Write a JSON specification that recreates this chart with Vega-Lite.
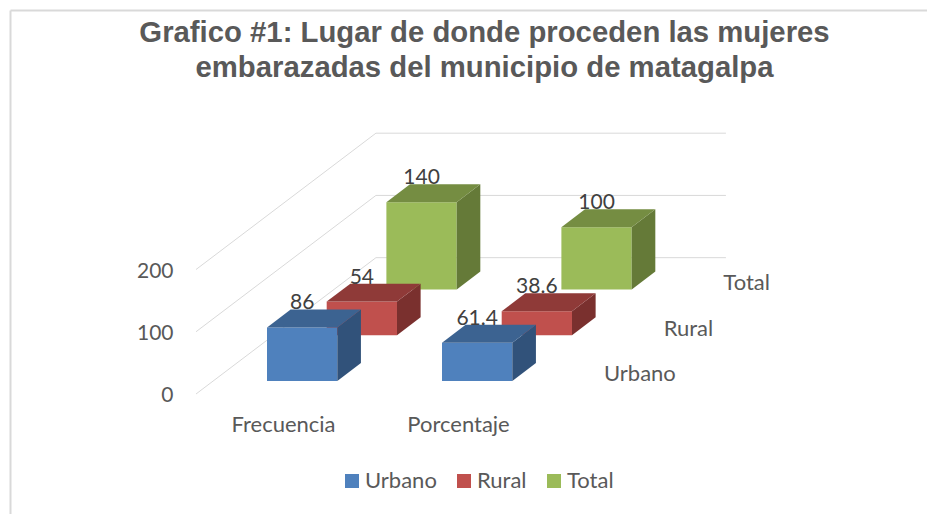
{
  "$schema": "https://vega.github.io/schema/vega-lite/v6.json",
  "width": 917,
  "height": 504,
  "autosize": "none",
  "padding": {"left": 10, "top": 10, "right": 0, "bottom": 0},
  "background": "white",
  "config": {"view": {"stroke": null}, "font": "Lato"},
  "title": {
    "text": ["Grafico #1: Lugar de donde proceden las mujeres", "embarazadas del municipio de matagalpa"],
    "font": "Liberation Sans", "fontSize": 29.3, "fontWeight": "bold", "color": "#595959",
    "anchor": "middle", "frame": "group", "baseline": "top", "lineHeight": 35, "offset": 0, "dx": 16, "dy": 73
  },
  "datasets": {
    "barras": [
      {"medida": "Frecuencia", "serie": "Total", "valor": 140},
      {"medida": "Porcentaje", "serie": "Total", "valor": 100},
      {"medida": "Frecuencia", "serie": "Rural", "valor": 54},
      {"medida": "Porcentaje", "serie": "Rural", "valor": 38.6},
      {"medida": "Frecuencia", "serie": "Urbano", "valor": 86},
      {"medida": "Porcentaje", "serie": "Urbano", "valor": 61.4}
    ],
    "rejilla": [{"nivel": 0}, {"nivel": 100}, {"nivel": 200}]
  },
  "data": {"name": "barras"},
  "transform": [
    {"calculate": "datum.medida === 'Frecuencia' ? 0 : 1", "as": "ci"},
    {"calculate": "indexof(['Urbano','Rural','Total'], datum.serie)", "as": "si"},
    {"calculate": "datum.ci - 0.0914 + datum.si * 0.3411", "as": "xl"},
    {"calculate": "datum.xl + 0.4017", "as": "xr"},
    {"calculate": "(datum.xl + datum.xr) / 2", "as": "xc"},
    {"calculate": "20.9 + 73.5 * datum.si", "as": "yb"},
    {"calculate": "datum.yb + datum.valor", "as": "yt"},
    {"calculate": "datum.serie + ' lateral'", "as": "lado"},
    {"calculate": "datum.serie + ' superior'", "as": "tapa"},
    {"calculate": "datum.medida + datum.serie", "as": "barra"},
    {"calculate": "[0, 1]", "as": "t"},
    {"flatten": ["t"]},
    {"calculate": "datum.xr + datum.t * 0.135", "as": "sx"},
    {"calculate": "datum.yb + datum.t * 28.9", "as": "sy0"},
    {"calculate": "datum.yt + datum.t * 28.9", "as": "sy1"},
    {"calculate": "datum.xl + datum.t * 0.135", "as": "tx0"},
    {"calculate": "datum.xr + datum.t * 0.135", "as": "tx1"}
  ],
  "layer": [
    {
      "data": {"name": "rejilla"},
      "transform": [{"calculate": "datum.nivel + 219", "as": "fondo"}],
      "layer": [
        {
          "mark": {"type": "rule", "color": "#d9d9d9", "strokeWidth": 1},
          "encoding": {
            "x": {"datum": -0.497, "type": "quantitative"},
            "x2": {"datum": 0.531},
            "y": {"field": "nivel", "type": "quantitative"},
            "y2": {"field": "fondo"}
          }
        },
        {
          "mark": {"type": "rule", "color": "#d9d9d9", "strokeWidth": 1},
          "encoding": {
            "x": {"datum": 0.531, "type": "quantitative"},
            "x2": {"datum": 2.531},
            "y": {"field": "fondo", "type": "quantitative"}
          }
        }
      ]
    },
    {
      "transform": [{"filter": "datum.t === 0"}],
      "mark": {"type": "rect"},
      "encoding": {
        "x": {
          "field": "xl", "type": "quantitative",
          "scale": {"domain": [-1.56, 3.68], "nice": false, "zero": false},
          "axis": {
            "orient": "top", "title": null, "values": [0, 1],
            "labelExpr": "datum.value === 0 ? 'Frecuencia' : 'Porcentaje'",
            "grid": false, "ticks": false, "domain": true, "domainColor": "#d9d9d9", "domainWidth": 2,
            "labelFont": "Lato", "labelFontSize": 22, "labelColor": "#595959",
            "labelBaseline": "middle", "labelPadding": -414
          }
        },
        "x2": {"field": "xr"},
        "y": {
          "field": "yb", "type": "quantitative",
          "scale": {"domain": [-192.8, 616.9], "nice": false, "zero": false},
          "axis": {
            "orient": "left", "title": null, "values": [0, 100, 200],
            "grid": false, "ticks": false, "domain": true, "domainColor": "#d9d9d9", "domainWidth": 2,
            "labelFont": "Lato", "labelFontSize": 21, "labelColor": "#595959",
            "labelPadding": -163, "labelOffset": 2
          }
        },
        "y2": {"field": "yt"},
        "fill": {
          "field": "serie", "type": "nominal",
          "scale": {
            "domain": ["Urbano", "Rural", "Total", "Urbano lateral", "Rural lateral", "Total lateral", "Urbano superior", "Rural superior", "Total superior"],
            "range": ["#4f81bd", "#c0504d", "#9bbb59", "#31527a", "#7a302e", "#657a38", "#3c6391", "#8f3a38", "#758d42"]
          },
          "legend": {
            "title": null, "values": ["Urbano", "Rural", "Total"],
            "orient": "none", "legendX": 331, "legendY": 460, "direction": "horizontal", "columns": 3,
            "symbolType": "square", "symbolSize": 196, "symbolStrokeWidth": 0,
            "labelFont": "Lato", "labelFontSize": 22, "labelColor": "#595959", "labelOffset": 2, "columnPadding": 16, "padding": 0
          }
        }
      }
    },
    {
      "mark": {"type": "area", "orient": "vertical"},
      "encoding": {
        "x": {"field": "sx", "type": "quantitative"},
        "y": {"field": "sy0", "type": "quantitative"},
        "y2": {"field": "sy1"},
        "detail": {"field": "barra"},
        "fill": {"field": "lado", "type": "nominal"}
      }
    },
    {
      "mark": {"type": "area", "orient": "horizontal"},
      "encoding": {
        "y": {"field": "sy1", "type": "quantitative"},
        "x": {"field": "tx0", "type": "quantitative"},
        "x2": {"field": "tx1"},
        "detail": {"field": "barra"},
        "fill": {"field": "tapa", "type": "nominal"}
      }
    },
    {
      "transform": [{"filter": "datum.t === 0"}],
      "mark": {"type": "text", "font": "Lato", "fontSize": 21, "color": "#404040", "align": "center", "baseline": "middle", "dy": -24},
      "encoding": {
        "x": {"field": "xc", "type": "quantitative"},
        "y": {"field": "yt", "type": "quantitative"},
        "text": {"field": "valor", "type": "nominal"}
      }
    },
    {
      "transform": [
        {"filter": "datum.t === 0 && datum.medida === 'Frecuencia'"},
        {"calculate": "1.834 + 0.3411 * datum.si", "as": "ex"},
        {"calculate": "32.1 + 73.1 * datum.si", "as": "ey"}
      ],
      "mark": {"type": "text", "font": "Lato", "fontSize": 22, "color": "#595959", "align": "left", "baseline": "middle"},
      "encoding": {
        "x": {"field": "ex", "type": "quantitative"},
        "y": {"field": "ey", "type": "quantitative"},
        "text": {"field": "serie", "type": "nominal"}
      }
    }
  ]
}
